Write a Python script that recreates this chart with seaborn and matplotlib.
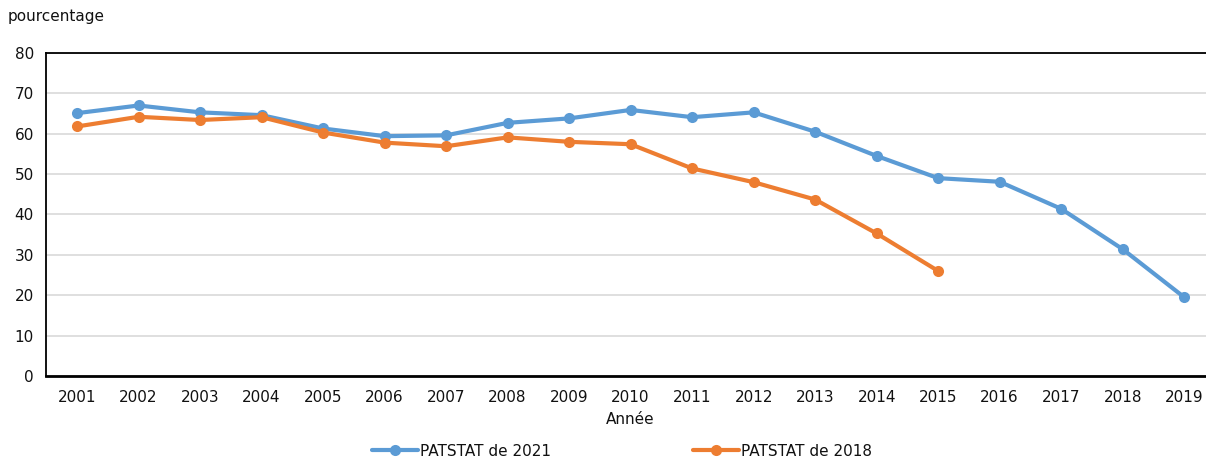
import numpy as np
import pandas as pd
import matplotlib
matplotlib.use("Agg")
import matplotlib.pyplot as plt
import seaborn as sns

# ------------------------------------ data ----------------------------------------
years = list(range(2001, 2020))
patstat_2021 = [65.1, 67.0, 65.3, 64.6, 61.3, 59.4, 59.6, 62.7, 63.8, 65.9,
                64.1, 65.3, 60.5, 54.5, 49.0, 48.1, 41.4, 31.4, 19.5]
years_2018 = list(range(2001, 2016))
patstat_2018 = [61.8, 64.2, 63.4, 64.1, 60.3, 57.8, 56.9, 59.1, 58.0, 57.4,
                51.4, 48.0, 43.7, 35.3, 26.0]

labels = ["PATSTAT de 2021", "PATSTAT de 2018"]
colors = ["#5B9BD5", "#ED7D31"]

df = pd.concat([
    pd.DataFrame({"Année": years, "valeur": patstat_2021, "serie": labels[0]}),
    pd.DataFrame({"Année": years_2018, "valeur": patstat_2018, "serie": labels[1]}),
])

# ------------------------------------ plot ----------------------------------------
sns.set_style("white", {"text.color": "#111111", "xtick.color": "#111111",
                        "ytick.color": "#111111", "axes.labelcolor": "#111111"})
plt.rcParams['font.family'] = ['DejaVu Sans']
fs = 11

fig = plt.figure(figsize=(12.06, 4.59), dpi=100)
ax = fig.add_axes([0.0384, 0.181, 0.969, 0.7035])

sns.lineplot(data=df, x="Année", y="valeur", hue="serie", palette=colors,
             marker="o", markersize=8, markeredgewidth=0, linewidth=3,
             ax=ax, zorder=3)

ax.set_xlim(2000.5, 2019.5)
ax.set_ylim(0, 80)
ax.set_yticks(range(0, 81, 10))
ax.set_xticks(years)
ax.set_xticklabels([str(y) for y in years], fontsize=fs)
ax.set_xticks(np.arange(2000.5, 2020, 1), minor=True)
ax.tick_params(axis="x", which="major", length=0, pad=10)
ax.tick_params(axis="x", which="minor", length=5, direction="in", width=1, color="black")
ax.tick_params(axis="y", length=0, labelsize=fs, pad=9)
ax.yaxis.grid(True, color="#d9d9d9", linewidth=1.2)
ax.set_axisbelow(True)

for side in ["left", "bottom", "top"]:
    ax.spines[side].set_color("black")
    ax.spines[side].set_linewidth(1.3)
ax.spines["bottom"].set_linewidth(2)
ax.spines["right"].set_visible(False)

ax.set_ylabel("")
ax.set_xlabel("Année", fontsize=fs, labelpad=5)
fig.text(8 / 1206, 1 - 17 / 459, "pourcentage", fontsize=fs, va="center", ha="left")

ax.legend(loc="center", bbox_to_anchor=(622 / 1206, 1 - 451 / 459),
          bbox_transform=fig.transFigure, ncol=2, frameon=False,
          fontsize=fs, handlelength=3.0, handletextpad=0.15, columnspacing=9.3)

fig.savefig("out.png", dpi=100)
